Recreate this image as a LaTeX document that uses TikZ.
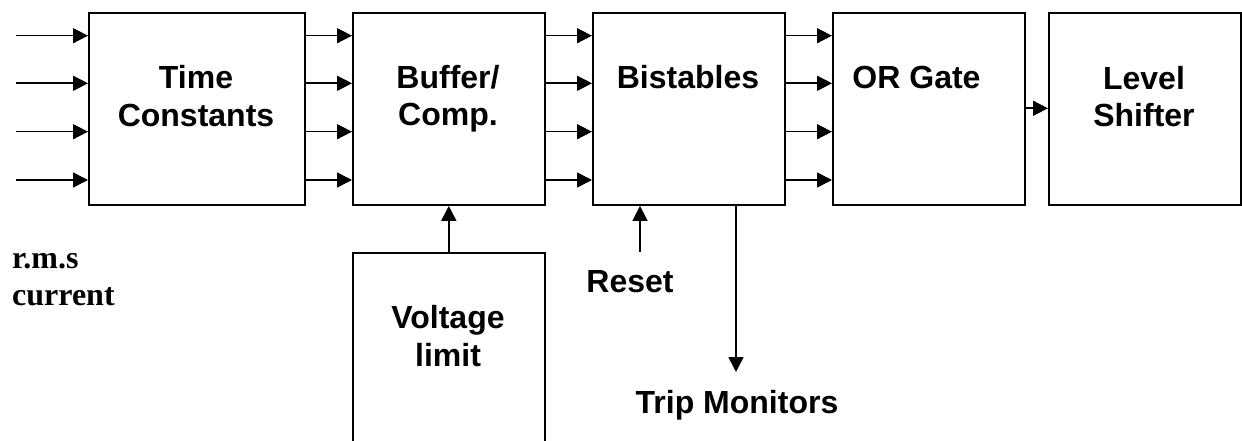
\documentclass[tikz,border=0pt]{standalone}
\usepackage{fontspec}
\setmainfont{Liberation Sans}
\newfontfamily\timesf{Liberation Serif}
\usetikzlibrary{arrows.meta}
\begin{document}
\begin{tikzpicture}[x=1pt,y=-1pt,
  blk/.style={draw, line width=1.6pt, minimum width=192pt, minimum height=192pt, inner sep=0pt, anchor=north west},
  lbl/.style={font=\fontsize{32}{38}\selectfont\bfseries, inner sep=0pt, anchor=base},
  tlbl/.style={font=\fontsize{32}{38}\selectfont\timesf\bfseries, inner sep=0pt, anchor=base west},
  sig/.style={line width=1.6pt, -{Triangle[length=15pt,width=15pt]}}]
\path[use as bounding box, clip] (0,0) rectangle (1242,441);
% blocks
\node[blk, minimum width=216pt] (tc) at (88,12.3) {};
\node[blk] (bc) at (352,12.3) {};
\node[blk] (bs) at (592,12.3) {};
\node[blk] (og) at (832,12.3) {};
\node[blk] (ls) at (1048,12.3) {};
\node[blk, minimum height=240pt] (vl) at (352,252) {};
% labels
\node[lbl] (t1) at (196,89) {Time};
\node[lbl] (t2) at (196,127) {Constants};
\node[lbl] (b1) at (448,89) {Buffer/};
\node[lbl] (b2) at (448,126) {Comp.};
\node[lbl] (s1) at (688,89) {Bistables};
\node[lbl] (o1) at (916.5,89) {OR Gate};
\node[lbl] (l1) at (1144,90) {Level};
\node[lbl] (l2) at (1144,127) {Shifter};
\node[lbl] (v1) at (448,328) {Voltage};
\node[lbl] (v2) at (448,366) {limit};
\node[lbl] (rl) at (630,292) {Reset};
\node[lbl] (tl) at (737,413) {Trip Monitors};
\node[tlbl] (r1) at (12,268) {r.m.s};
\node[tlbl] (r2) at (12,305) {current};
% signal levels
\coordinate (y1) at (0,35.7);
\coordinate (y2) at (0,83.3);
\coordinate (y3) at (0,131.7);
\coordinate (y4) at (0,180);
\coordinate (y5) at (0,108.3);
\foreach \k in {1,2,3,4}{
  \coordinate (in\k) at (15.7,0);
  \draw[sig] (in\k |- y\k) -- (tc.west |- y\k);
  \draw[sig] (tc.east |- y\k) -- (bc.west |- y\k);
  \draw[sig] (bc.east |- y\k) -- (bs.west |- y\k);
  \draw[sig] (bs.east |- y\k) -- (og.west |- y\k);
}
\draw[sig] (og.east |- y5) -- (ls.west |- y5);
\draw[sig] (vl.north) -- (bc.south);
\coordinate (rs) at (640,252);
\draw[sig] (rs) -- (bs.south -| rs);
\coordinate (tm) at (736,372);
\draw[sig] (bs.south -| tm) -- (tm);
\end{tikzpicture}
\end{document}
